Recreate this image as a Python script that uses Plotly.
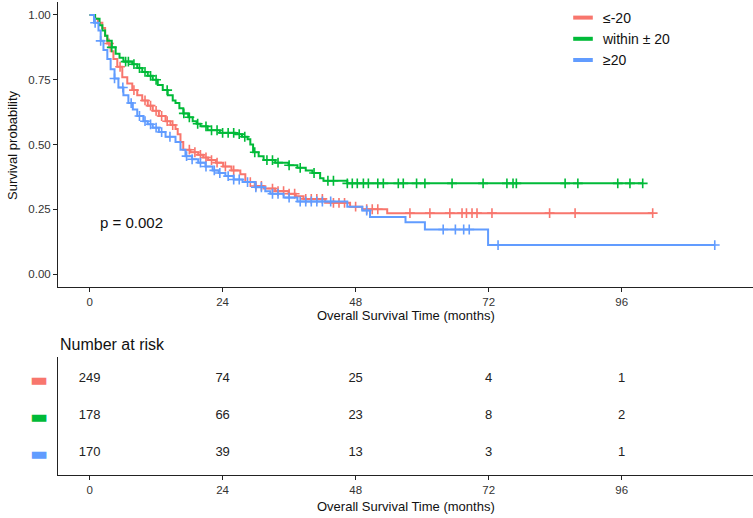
import bisect
import plotly.graph_objects as go

# ---------------- data ----------------
group_names = ["≤-20", "within ± 20", "≥20"]
group_colors = ["#F8766D", "#00BA38", "#619CFF"]

# Kaplan-Meier step points (months, survival)
red_times = [0, 0.8, 1.5, 2.3, 2.8, 3.2, 3.8, 4.3, 5.0, 5.9, 6.8, 7.7, 8.6, 9.5, 10.5, 11.4,
             12.5, 13.7, 14.6, 15.5, 15.9, 16.4, 16.9, 18.2, 19.6, 20.5, 21.4, 22.8, 24.1,
             25.6, 27.2, 28.1, 29.8, 31.4, 33.5, 35.9, 37.2, 38.6, 42.5, 47.0, 49.2, 53.7]
red_surv = [1.0, 0.985, 0.97, 0.95, 0.92, 0.89, 0.86, 0.83, 0.80, 0.76, 0.735, 0.71, 0.69,
            0.67, 0.65, 0.63, 0.61, 0.59, 0.575, 0.56, 0.54, 0.51, 0.48, 0.47, 0.46, 0.45,
            0.44, 0.43, 0.415, 0.40, 0.385, 0.355, 0.34, 0.33, 0.32, 0.31, 0.30, 0.29, 0.275,
            0.26, 0.25, 0.235]
red_censor = [3.5, 5.5, 8, 10, 11, 12, 13, 14, 15, 18, 19, 20, 21, 22, 23, 24.5, 26, 29, 30,
              31, 33, 34, 35, 36, 37, 39, 40, 41, 42, 44, 45, 46, 48, 50, 51, 52, 57.8, 61.4,
              65, 67.2, 68, 69, 69.9, 72.6, 83, 87.6, 101.6]
red_end = 101.6

green_times = [0, 1.0, 1.8, 2.3, 2.8, 3.2, 4.0, 4.7, 5.4, 6.1, 7.7, 8.6, 9.5, 10.5, 11.4, 12.3,
               13.2, 14.1, 15.0, 15.5, 16.2, 16.9, 17.8, 18.6, 19.3, 20.0, 21.3, 23.5, 26.3,
               27.5, 28.5, 29.0, 29.5, 30.5, 31.4, 33.5, 35.9, 37.5, 39.0, 40.2, 41.6, 42.2, 46.5]
green_surv = [1.0, 0.985, 0.96, 0.94, 0.92, 0.90, 0.875, 0.85, 0.835, 0.82, 0.81, 0.795, 0.78,
              0.765, 0.75, 0.73, 0.71, 0.69, 0.67, 0.66, 0.64, 0.62, 0.605, 0.59, 0.58, 0.57,
              0.555, 0.545, 0.54, 0.53, 0.52, 0.50, 0.47, 0.455, 0.44, 0.43, 0.42, 0.41, 0.40,
              0.39, 0.37, 0.36, 0.35]
green_censor = [4, 6.5, 7, 8, 9, 10, 11, 12, 14, 17, 18, 19.5, 21, 22, 23, 24, 25, 26, 27, 28,
                29.8, 32, 33, 34, 36, 38, 40.5, 43, 44, 46.5, 47.4, 48.3, 49.4, 50.3, 52, 53,
                55.7, 56.6, 59, 60.5, 65.4, 71, 75.3, 76.4, 77, 85.8, 88.1, 95.3, 97.5, 99.8]
green_end = 99.8

blue_times = [0, 0.8, 1.6, 2.0, 2.5, 3.2, 3.8, 4.5, 5.2, 6.1, 7.0, 7.8, 8.6, 9.7, 10.5, 11.4,
              12.5, 13.7, 15.5, 16.4, 17.3, 18.5, 19.6, 20.9, 22.2, 23.3, 24.5, 26.0, 27.6,
              29.9, 31.7, 32.6, 35.0, 37.5, 46.5, 49.2, 50.6, 57.0, 60.5, 71.9]
blue_surv = [1.0, 0.97, 0.94, 0.90, 0.865, 0.83, 0.79, 0.755, 0.72, 0.69, 0.66, 0.635, 0.61,
             0.59, 0.578, 0.565, 0.548, 0.53, 0.51, 0.48, 0.455, 0.443, 0.43, 0.415, 0.40, 0.39,
             0.378, 0.365, 0.355, 0.335, 0.32, 0.31, 0.295, 0.28, 0.26, 0.245, 0.22, 0.20,
             0.172, 0.112]
blue_censor = [1, 2, 4.5, 6, 7.5, 9, 10, 11, 12, 13, 14.5, 17.5, 18.5, 20, 21, 22.5, 23.5, 25,
               26, 27, 28.5, 30, 31, 33, 34, 36, 38, 39, 40, 41, 42, 43.5, 50, 63.8, 66, 67.5,
               68.5, 73.7, 112.8]
blue_end = 112.8

# Number at risk table
risk_times = [0, 24, 48, 72, 96]
risk_red = [249, 74, 25, 4, 1]
risk_green = [178, 66, 23, 8, 2]
risk_blue = [170, 39, 13, 3, 1]

x_ticks = [0, 24, 48, 72, 96]
y_ticks = [0, 0.25, 0.5, 0.75, 1.0]
y_ticklabels = ["0.00", "0.25", "0.50", "0.75", "1.00"]
p_text = "p = 0.002"

groups = [
    (red_times, red_surv, red_censor, red_end, risk_red),
    (green_times, green_surv, green_censor, green_end, risk_green),
    (blue_times, blue_surv, blue_censor, blue_end, risk_blue),
]

# ---------------- figure ----------------
W, H = 753, 518
L = 58
FONT = "Liberation Sans, Arial, sans-serif"
TXT = "#333333"

fig = go.Figure()


def surv_at(times, surv, t):
    i = bisect.bisect_right(times, t) - 1
    return surv[max(i, 0)]


for (times, surv, cens, end, _), name, col in zip(groups, group_names, group_colors):
    xs = list(times) + [end]
    ys = list(surv) + [surv[-1]]
    fig.add_trace(go.Scatter(x=xs, y=ys, mode="lines", line=dict(color=col, width=2, shape="hv"),
                             showlegend=False, xaxis="x", yaxis="y", hoverinfo="skip"))
    fig.add_trace(go.Scatter(x=cens, y=[surv_at(times, surv, c) for c in cens], mode="markers",
                             marker=dict(symbol="cross-thin", size=7, line=dict(color=col, width=1.6)),
                             showlegend=False, xaxis="x", yaxis="y", hoverinfo="skip"))
    # legend entry
    fig.add_trace(go.Scatter(x=[None], y=[None], mode="markers", name=name,
                             marker=dict(symbol="line-ew", size=14, line=dict(color=col, width=4)),
                             xaxis="x", yaxis="y"))

# risk table numbers
for row, ((_, _, _, _, risk), col) in enumerate(zip(groups, group_colors), start=1):
    fig.add_trace(go.Scatter(x=risk_times, y=[row] * len(risk_times), mode="text",
                             text=[str(v) for v in risk], textfont=dict(size=13, color="#222222", family=FONT),
                             showlegend=False, xaxis="x2", yaxis="y2", hoverinfo="skip"))

main_bottom = 1 - 287 / H
main_top = 1 - 2 / H
tab_bottom = 1 - 475 / H
tab_top = 1 - 357 / H
xr = [-5.7, 119.7]

axis_common = dict(showgrid=False, zeroline=False, showline=True, linecolor="#222222", linewidth=1,
                   ticks="outside", ticklen=4, tickcolor="#222222", tickwidth=1, automargin=False,
                   tickfont=dict(size=11.5, color=TXT, family=FONT))

fig.update_layout(
    width=W, height=H,
    margin=dict(l=L, r=0, t=0, b=0, autoexpand=False),
    paper_bgcolor="white", plot_bgcolor="white",
    font=dict(family=FONT, color=TXT),
    xaxis=dict(domain=[0, 1], range=xr, tickvals=x_ticks, anchor="y", **axis_common),
    yaxis=dict(domain=[main_bottom, main_top], range=[-0.05, 1.05], tickvals=y_ticks,
               ticktext=y_ticklabels, anchor="x", **axis_common),
    xaxis2=dict(domain=[0, 1], range=xr, tickvals=x_ticks, anchor="y2", **axis_common),
    yaxis2=dict(domain=[tab_bottom, tab_top], range=[3.6, 0.4], tickvals=[1, 2, 3],
                ticktext=[f"<span style='color:{c}'>▬</span>" for c in group_colors],
                anchor="x2", showgrid=False, zeroline=False, showline=True, linecolor="#222222",
                linewidth=1, ticks="outside", ticklen=5, tickcolor="rgba(0,0,0,0)", automargin=False,
                tickfont=dict(size=19, family="DejaVu Sans")),
    legend=dict(x=(563 - L) / (W - L), y=1 - 2 / H, xanchor="left", yanchor="top",
                font=dict(size=14, color="#111111", family=FONT), bgcolor="rgba(0,0,0,0)",
                tracegroupgap=0, itemwidth=30),
    showlegend=True,
)

fig.add_annotation(text="Survival probability", xref="paper", yref="paper",
                   x=(12 - L) / (W - L), y=1 - 145 / H, textangle=-90, showarrow=False,
                   font=dict(size=13, color="#111111", family=FONT), xanchor="center", yanchor="middle")
fig.add_annotation(text="Overall Survival Time (months)", xref="paper", yref="paper",
                   x=0.5, y=1 - 315 / H, showarrow=False,
                   font=dict(size=13, color="#111111", family=FONT), xanchor="center", yanchor="middle")
fig.add_annotation(text="Overall Survival Time (months)", xref="paper", yref="paper",
                   x=0.5, y=1 - 506 / H, showarrow=False,
                   font=dict(size=13, color="#111111", family=FONT), xanchor="center", yanchor="middle")
fig.add_annotation(text="Number at risk", xref="paper", yref="paper",
                   x=0, y=1 - 344 / H, showarrow=False,
                   font=dict(size=16, color="#111111", family=FONT), xanchor="left", yanchor="middle")
fig.add_annotation(text=p_text, xref="x", yref="y", x=1.5, y=0.2, showarrow=False,
                   font=dict(size=15, color="#111111", family=FONT), xanchor="left", yanchor="middle")

fig.write_html("out.html", config={"displayModeBar": False},
               post_script="document.body.style.margin='0';document.body.style.overflow='hidden';")
